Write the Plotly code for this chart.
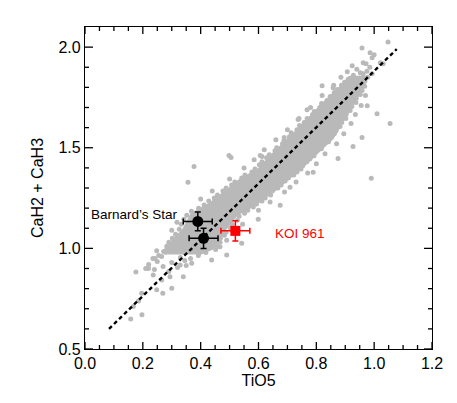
import plotly.graph_objects as go

# ---- Dense core of the gray cloud (band edges) ----
core_y  = [0.97, 1.00, 1.04, 1.09, 1.17, 1.22, 1.27, 1.30, 1.34, 1.39, 1.47, 1.55, 1.635, 1.72, 1.80, 1.85]
core_xl = [0.275, 0.28, 0.305, 0.34, 0.37, 0.432, 0.477, 0.502, 0.537, 0.60, 0.652, 0.71, 0.766, 0.825, 0.884, 0.93]
core_xr = [0.39, 0.44, 0.46, 0.48, 0.525, 0.59, 0.635, 0.665, 0.695, 0.74, 0.798, 0.856, 0.892, 0.926, 0.96, 0.97]

# ---- Individual gray points (edges and outliers) ----
cloud_x = [
    # upper-left edge
    0.265, 0.272, 0.283, 0.29, 0.302, 0.313, 0.326, 0.333, 0.342, 0.352, 0.368, 0.393, 0.412, 0.428, 0.447,
    0.458, 0.477, 0.488, 0.507, 0.518, 0.542, 0.553, 0.577, 0.588, 0.603, 0.612, 0.628, 0.637, 0.657, 0.663,
    0.683, 0.688, 0.707, 0.713, 0.733, 0.742, 0.758, 0.768, 0.787, 0.793, 0.812, 0.818, 0.837, 0.848, 0.862,
    0.873, 0.887, 0.898, 0.917, 0.928,
    # lower-right edge
    0.365, 0.392, 0.418, 0.452, 0.458, 0.467, 0.468, 0.482, 0.488, 0.503, 0.508, 0.527, 0.533, 0.552, 0.563,
    0.582, 0.593, 0.612, 0.623, 0.642, 0.648, 0.667, 0.678, 0.692, 0.703, 0.722, 0.733, 0.747, 0.753, 0.767,
    0.778, 0.792, 0.798, 0.817, 0.823, 0.842, 0.848, 0.862, 0.868, 0.882, 0.888, 0.902, 0.903, 0.917, 0.923,
    0.937, 0.938, 0.952, 0.958, 0.967, 0.968, 0.978,
    # sparse lower part
    0.22, 0.235, 0.25, 0.27, 0.30, 0.32, 0.345, 0.29, 0.24, 0.21, 0.255, 0.33, 0.35, 0.242, 0.219, 0.277,
    0.248, 0.329, 0.438, 0.369, 0.467, 0.49, 0.542, 0.599,
    # points just outside the edges
    0.30, 0.318, 0.40, 0.44, 0.50, 0.55, 0.585, 0.62, 0.66, 0.70, 0.74, 0.78, 0.82, 0.86, 0.885,
    0.49, 0.51, 0.545, 0.60, 0.64, 0.69, 0.73, 0.77, 0.80, 0.83, 0.87, 0.895, 0.92, 0.935, 0.955, 0.97,
    # top region
    1.048, 0.958, 0.986, 1.00, 0.993, 0.962, 0.972, 0.924, 1.021, 1.031, 0.952, 0.962, 0.993, 0.907, 0.858,
    0.820, 0.94, 0.95, 0.975, 0.985, 0.935, 0.91, 0.89,
    # outliers
    0.768, 0.737, 0.689, 0.612, 0.976, 1.010, 1.055, 0.958, 0.927, 0.875, 0.789, 0.990, 0.498, 0.505, 0.377,
    0.356, 0.675, 0.709, 0.606,
    # lower-left outliers
    0.158, 0.197, 0.167, 0.185, 0.176, 0.248, 0.269, 0.300, 0.196, 0.236, 0.265, 0.294, 0.340, 0.219,
]
cloud_y = [
    # upper-left edge
    0.96, 0.985, 1.01, 1.03, 1.05, 1.07, 1.095, 1.12, 1.145, 1.165, 1.185, 1.20, 1.215, 1.235, 1.25,
    1.265, 1.285, 1.30, 1.315, 1.33, 1.35, 1.365, 1.38, 1.395, 1.415, 1.43, 1.45, 1.465, 1.485, 1.50,
    1.52, 1.535, 1.555, 1.575, 1.59, 1.61, 1.625, 1.645, 1.665, 1.68, 1.70, 1.72, 1.735, 1.755, 1.775,
    1.79, 1.81, 1.825, 1.845, 1.86,
    # lower-right edge
    0.95, 0.965, 0.98, 0.995, 1.01, 1.03, 1.05, 1.065, 1.08, 1.10, 1.12, 1.14, 1.16, 1.175, 1.19,
    1.205, 1.22, 1.235, 1.25, 1.265, 1.285, 1.30, 1.315, 1.335, 1.35, 1.365, 1.38, 1.395, 1.41, 1.43,
    1.445, 1.46, 1.48, 1.495, 1.515, 1.53, 1.55, 1.57, 1.585, 1.605, 1.625, 1.645, 1.665, 1.685, 1.705,
    1.725, 1.745, 1.765, 1.785, 1.805, 1.83, 1.85,
    # sparse lower part
    0.92, 0.95, 0.935, 0.91, 0.93, 0.905, 0.94, 0.885, 0.895, 0.90, 0.965, 0.955, 0.915, 0.95, 0.901, 0.983,
    0.988, 0.917, 0.942, 0.926, 1.008, 0.967, 1.025, 1.145,
    # points just outside the edges
    1.09, 1.13, 1.245, 1.285, 1.345, 1.40, 1.44, 1.49, 1.54, 1.59, 1.645, 1.70, 1.76, 1.81, 1.85,
    1.04, 1.09, 1.12, 1.19, 1.23, 1.28, 1.33, 1.375, 1.42, 1.47, 1.52, 1.57, 1.62, 1.665, 1.71, 1.76,
    # top region
    2.026, 1.996, 1.972, 1.962, 1.947, 1.922, 1.917, 1.907, 1.922, 1.917, 1.873, 1.868, 1.868, 1.878, 1.798,
    1.808, 1.89, 1.845, 1.88, 1.90, 1.83, 1.84, 1.80,
    # outliers
    1.689, 1.640, 1.551, 1.457, 1.709, 1.669, 1.620, 1.551, 1.506, 1.447, 1.378, 1.348, 1.462, 1.452, 1.407,
    1.328, 1.214, 1.304, 1.462,
    # lower-left outliers
    0.649, 0.670, 0.711, 0.739, 0.883, 0.794, 0.777, 0.802, 0.777, 0.868, 0.843, 0.859, 0.859, 0.901,
]

# ---- Fit line ----
fit_x = [0.083, 1.078]
fit_y = [0.600, 1.990]

# ---- Barnard's Star measurements ----
bs_x = [0.390, 0.410]
bs_y = [1.134, 1.050]
bs_xerr = [0.05, 0.05]
bs_yerr = [0.047, 0.05]

# ---- KOI 961 ----
koi_x = [0.520]
koi_y = [1.087]
koi_xerr = [0.05]
koi_yerr = [0.05]

# ---- Axis ranges and tick positions ----
X_RANGE = [0, 1.2]
Y_RANGE = [0.5, 2.1]
x_major = [0.0, 0.2, 0.4, 0.6, 0.8, 1.0, 1.2]
x_minor = [0.05, 0.10, 0.15, 0.25, 0.30, 0.35, 0.45, 0.50, 0.55, 0.65, 0.70, 0.75,
           0.85, 0.90, 0.95, 1.05, 1.10, 1.15]
y_major = [0.5, 1.0, 1.5, 2.0]
y_minor = [0.6, 0.7, 0.8, 0.9, 1.1, 1.2, 1.3, 1.4, 1.6, 1.7, 1.8, 1.9]

GRAY = "#b9b9b9"
FONT = "Liberation Sans, Arial, Helvetica, sans-serif"

W, H = 457, 403
M = dict(l=85, r=25, t=27, b=54)
plot_w = W - M["l"] - M["r"]
plot_h = H - M["t"] - M["b"]
# tick lengths in pixels converted to axis units
dy_per_px = (Y_RANGE[1] - Y_RANGE[0]) / plot_h
dx_per_px = (X_RANGE[1] - X_RANGE[0]) / plot_w

tick_x, tick_y = [], []
for vals, L in ((x_major, 7), (x_minor, 4)):
    for v in vals:
        tick_x += [v, v, None, v, v, None]
        tick_y += [Y_RANGE[0], Y_RANGE[0] + L * dy_per_px, None,
                   Y_RANGE[1], Y_RANGE[1] - L * dy_per_px, None]
for vals, L in ((y_major, 8), (y_minor, 4)):
    for v in vals:
        tick_x += [X_RANGE[0], X_RANGE[0] + L * dx_per_px, None,
                   X_RANGE[1], X_RANGE[1] - L * dx_per_px, None]
        tick_y += [v, v, None, v, v, None]

fig = go.Figure()

poly_x = core_xl + core_xr[::-1]
poly_y = core_y + core_y[::-1]
fig.add_trace(go.Scatter(x=poly_x, y=poly_y, mode="lines", fill="toself",
                         fillcolor=GRAY, line=dict(color=GRAY, width=3),
                         hoverinfo="skip", showlegend=False))
fig.add_trace(go.Scatter(x=cloud_x, y=cloud_y, mode="markers",
                         marker=dict(color=GRAY, size=5, line=dict(width=0)),
                         showlegend=False))
fig.add_trace(go.Scatter(x=fit_x, y=fit_y, mode="lines",
                         line=dict(color="black", width=2.4, dash="4px,3px"),
                         showlegend=False))
fig.add_trace(go.Scatter(x=bs_x, y=bs_y, mode="markers",
                         marker=dict(color="black", size=11, symbol="circle"),
                         error_x=dict(type="data", array=bs_xerr, color="black", thickness=1.5, width=3),
                         error_y=dict(type="data", array=bs_yerr, color="black", thickness=1.5, width=3),
                         showlegend=False))
fig.add_trace(go.Scatter(x=koi_x, y=koi_y, mode="markers",
                         marker=dict(color="red", size=10, symbol="square"),
                         error_x=dict(type="data", array=koi_xerr, color="red", thickness=1.5, width=3),
                         error_y=dict(type="data", array=koi_yerr, color="red", thickness=1.5, width=3),
                         showlegend=False))
# inward tick marks on all four sides
fig.add_trace(go.Scatter(x=tick_x, y=tick_y, mode="lines", connectgaps=False,
                         line=dict(color="black", width=1.3),
                         hoverinfo="skip", showlegend=False))

fig.add_annotation(x=0.327, y=1.168, text="Barnard’s Star", showarrow=False,
                   xanchor="right", yanchor="middle",
                   font=dict(family=FONT, size=13.5, color="black"))
fig.add_annotation(x=0.650, y=1.076, text="KOI 961", showarrow=False,
                   xanchor="left", yanchor="middle",
                   font=dict(family=FONT, size=13.5, color="red"))

fig.update_layout(
    template="simple_white",
    width=W, height=H, margin=M,
    plot_bgcolor="white", paper_bgcolor="white", showlegend=False,
    xaxis=dict(range=X_RANGE, tickmode="array", tickvals=x_major, tickformat=".1f",
               showgrid=False, zeroline=False, showline=True, linecolor="black", linewidth=1.3,
               mirror=True, ticks="", automargin=False,
               tickfont=dict(family=FONT, size=16, color="black"),
               title=dict(text="TiO5", font=dict(family=FONT, size=16, color="black"), standoff=3)),
    yaxis=dict(range=Y_RANGE, tickmode="array", tickvals=y_major, tickformat=".1f",
               showgrid=False, zeroline=False, showline=True, linecolor="black", linewidth=1.3,
               mirror=True, ticks="", automargin=False,
               tickfont=dict(family=FONT, size=16, color="black"),
               title=dict(text="CaH2 + CaH3", font=dict(family=FONT, size=16, color="black"), standoff=10)),
)

fig.write_html("out.html", config={"displayModeBar": False},
               post_script="document.body.style.margin='0';document.body.style.overflow='hidden';")
